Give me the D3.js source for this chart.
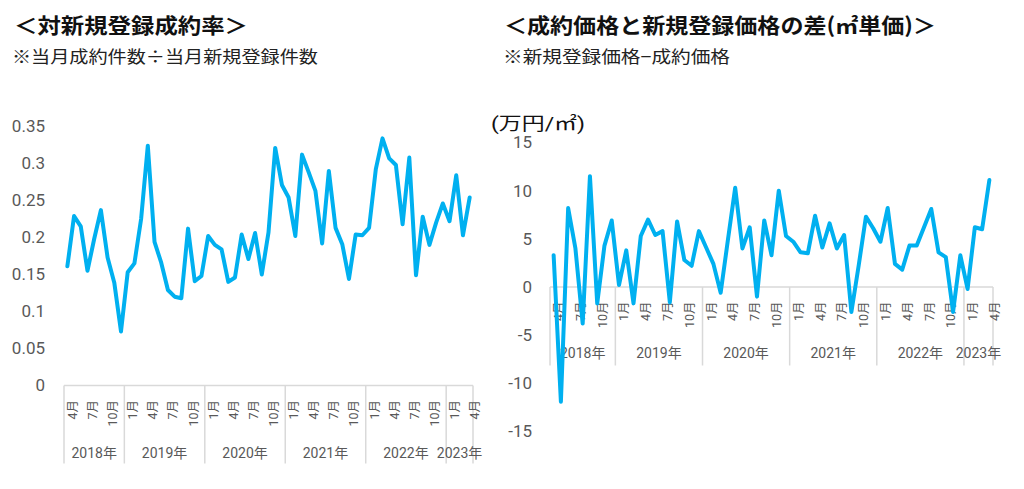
<!DOCTYPE html>
<html>
<head>
<meta charset="utf-8">
<script src="https://cdn.jsdelivr.net/npm/d3@7"></script>
<style>
  html, body { margin: 0; padding: 0; background: #fff; }
  svg { display: block; }
</style>
</head>
<body>
<div id="chart"></div>
<script>
// categories: Apr 2018 .. Apr 2023 (year, month)
const categories = [
  "2018/4","2018/5","2018/6","2018/7","2018/8","2018/9","2018/10","2018/11","2018/12",
  "2019/1","2019/2","2019/3","2019/4","2019/5","2019/6","2019/7","2019/8","2019/9","2019/10","2019/11","2019/12",
  "2020/1","2020/2","2020/3","2020/4","2020/5","2020/6","2020/7","2020/8","2020/9","2020/10","2020/11","2020/12",
  "2021/1","2021/2","2021/3","2021/4","2021/5","2021/6","2021/7","2021/8","2021/9","2021/10","2021/11","2021/12",
  "2022/1","2022/2","2022/3","2022/4","2022/5","2022/6","2022/7","2022/8","2022/9","2022/10","2022/11","2022/12",
  "2023/1","2023/2","2023/3","2023/4"
];
const yearLabels = ["2018年","2019年","2020年","2021年","2022年","2023年"];
const monthTicks = ["1","4","7","10"];

// 対新規登録成約率
const contractRate = [
  0.161,0.229,0.215,0.155,0.198,0.237,0.173,0.139,0.073,
  0.153,0.165,0.225,0.324,0.194,0.166,0.129,0.120,0.118,0.212,0.141,0.148,
  0.202,0.190,0.184,0.140,0.146,0.204,0.171,0.206,0.150,0.207,0.321,0.271,
  0.254,0.202,0.312,0.288,0.263,0.192,0.290,0.213,0.191,0.144,0.204,0.203,
  0.213,0.292,0.334,0.307,0.298,0.218,0.308,0.149,0.228,0.190,0.220,0.246,
  0.222,0.284,0.203,0.254
];
const rateTicks = [0, 0.05, 0.1, 0.15, 0.2, 0.25, 0.3, 0.35];

// 成約価格と新規登録価格の差 (万円/㎡)
const priceGap = [
  3.3,-11.9,8.2,4.0,-3.8,11.5,-1.7,4.3,6.9,
  0.2,3.8,-1.7,5.3,7.0,5.4,5.8,-1.6,6.8,2.8,2.2,5.8,
  4.1,2.4,-0.6,4.9,10.3,4.0,6.2,-1.0,6.9,3.3,10.0,5.3,
  4.7,3.6,3.5,7.4,4.1,6.6,4.0,5.4,-2.6,2.2,7.3,6.1,
  4.7,8.2,2.4,1.8,4.3,4.3,6.2,8.1,3.6,3.1,-2.6,3.3,
  -0.2,6.2,6.0,11.1
];
const gapTicks = [-15, -10, -5, 0, 5, 10, 15];

const W = 1024, H = 489;
const lineColor = "#00B0F0";
const gridColor = "#D9D9D9";
const labelColor = "#595959";
const numFont = "Roboto, 'Noto Sans CJK JP', sans-serif";
const jpFont = "'Noto Sans CJK JP', sans-serif";

const svg = d3.select("#chart").append("svg")
    .attr("width", W)
    .attr("height", H);

function drawChart(cfg) {
    const g = svg.append("g");

    let x = d3.scaleBand().domain(categories).range([cfg.left, cfg.right]);
    let y = d3.scaleLinear().domain(cfg.domain).range([cfg.bottom, cfg.top]);
    const y0 = y(0);

    // titles
    g.append("text")
        .attr("x", cfg.titleX).attr("y", 33)
        .attr("textLength", cfg.titleW).attr("lengthAdjust", "spacingAndGlyphs")
        .style("font-family", jpFont).style("font-weight", "bold")
        .style("font-size", "21px").style("fill", "#111")
        .text(cfg.title);
    g.append("text")
        .attr("x", cfg.subX).attr("y", 63)
        .attr("textLength", cfg.subW).attr("lengthAdjust", "spacingAndGlyphs")
        .style("font-family", jpFont)
        .style("font-size", "17px").style("fill", "#222")
        .text(cfg.sub);

    if (cfg.unit) {
        g.append("text")
            .attr("x", cfg.unitX).attr("y", 130)
            .attr("textLength", 94).attr("lengthAdjust", "spacingAndGlyphs")
            .style("font-family", numFont)
            .style("font-size", "18px").style("fill", "#111")
            .text(cfg.unit);
    }

    // y axis labels
    const yAxis = g.append("g")
        .attr("transform", "translate(" + cfg.tickX + ",0)")
        .call(d3.axisLeft(y).tickValues(cfg.ticks).tickSize(0).tickPadding(0)
            .tickFormat(function (d) { return String(d); }));
    yAxis.select(".domain").remove();
    yAxis.selectAll("text")
        .style("font-family", numFont)
        .style("font-size", "17px")
        .style("fill", labelColor);

    // category axis line
    g.append("line")
        .attr("x1", cfg.left).attr("x2", cfg.right)
        .attr("y1", y0).attr("y2", y0)
        .style("stroke", gridColor).style("stroke-width", 1.5);

    // year group dividers
    const years = categories.map(function (c) { return c.split("/")[0]; });
    const bounds = [0];
    years.forEach(function (yr, i) { if (i > 0 && yr !== years[i - 1]) bounds.push(i); });
    bounds.push(categories.length);
    const step = x.step();

    g.selectAll(".divider")
        .data(bounds)
        .enter()
        .append("line")
        .attr("class", "divider")
        .attr("x1", function (d) { return cfg.left + d * step; })
        .attr("x2", function (d) { return cfg.left + d * step; })
        .attr("y1", y0)
        .attr("y2", y0 + cfg.boxH)
        .style("stroke", gridColor).style("stroke-width", 1.5);

    // month labels, every third month
    const shown = categories.filter(function (c) {
        return monthTicks.indexOf(c.split("/")[1]) >= 0;
    });
    g.selectAll(".month")
        .data(shown)
        .enter()
        .append("text")
        .attr("class", "month")
        .attr("transform", function (d) {
            return "translate(" + (x(d) + step / 2 + 5) + "," + (y0 + 14.5) + ") rotate(-90)";
        })
        .attr("text-anchor", "end")
        .attr("dominant-baseline", "central")
        .style("font-family", numFont)
        .style("font-size", "12.5px")
        .style("fill", labelColor)
        .text(function (d) { return d.split("/")[1] + "月"; });

    // year labels
    g.selectAll(".year")
        .data(yearLabels)
        .enter()
        .append("text")
        .attr("class", "year")
        .attr("x", function (d, i) { return cfg.left + (bounds[i] + bounds[i + 1]) / 2 * step; })
        .attr("y", y0 + cfg.yearDy)
        .attr("text-anchor", "middle")
        .style("font-family", numFont)
        .style("font-size", "14px")
        .style("fill", labelColor)
        .text(function (d) { return d; });

    const valueline = d3.line()
        .x(function (d, i) { return x(categories[i]) + step / 2; })
        .y(function (d) { return y(d); });

    g.append("path")
        .datum(cfg.values)
        .attr("d", valueline)
        .style("fill", "none")
        .style("stroke", lineColor)
        .style("stroke-width", 4)
        .style("stroke-linejoin", "round")
        .style("stroke-linecap", "round");
}

drawChart({
    title: "＜対新規登録成約率＞", titleX: 14, titleW: 234,
    sub: "※当月成約件数÷当月新規登録件数", subX: 12, subW: 306,
    values: contractRate, ticks: rateTicks, domain: [0, 0.35],
    left: 64, right: 473, top: 126.5, bottom: 385.5,
    tickX: 45, boxH: 78, yearDy: 72
});

drawChart({
    title: "＜成約価格と新規登録価格の差(㎡単価)＞", titleX: 504, titleW: 432,
    sub: "※新規登録価格−成約価格", subX: 503, subW: 227,
    unit: "(万円/㎡)", unitX: 491,
    values: priceGap, ticks: gapTicks, domain: [-15, 15],
    left: 550, right: 993, top: 142.5, bottom: 431.5,
    tickX: 532, boxH: 78.5, yearDy: 71
});
</script>
</body>
</html>
